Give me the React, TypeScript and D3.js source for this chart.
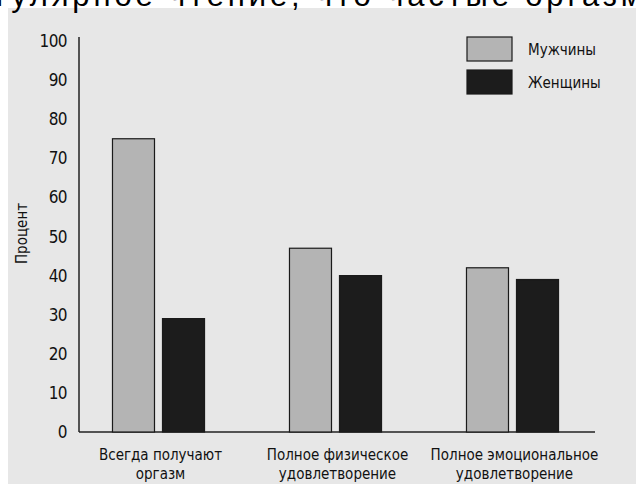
import React from "react";
import * as d3 from "d3";

const categories: string[][] = [
  ["Всегда получают", "оргазм"],
  ["Полное физическое", "удовлетворение"],
  ["Полное эмоциональное", "удовлетворение"],
];
const categoryKeys = ["orgasm", "physical", "emotional"];
const seriesNames = ["Мужчины", "Женщины"];
const menValues = [75, 47, 42];
const womenValues = [29, 40, 39];
const yTicks = [0, 10, 20, 30, 40, 50, 60, 70, 80, 90, 100];
const yLabel = "Процент";
const headerText = "гулярное чтение, что частые оргазм";

const W = 636;
const H = 484;
const FONT = "'Liberation Sans Narrow', 'DejaVu Sans Condensed', 'Arial Narrow', Arial, sans-serif";

export default function App() {
  const axisX = 79;
  const y = d3.scaleLinear().domain([0, 100]).range([432, 41]);
  const x0 = d3
    .scaleBand<string>()
    .domain(categoryKeys)
    .range([70, 601])
    .paddingInner(0.48)
    .paddingOuter(0.24);
  const x1 = d3
    .scaleBand<string>()
    .domain(seriesNames)
    .range([0, x0.bandwidth()])
    .paddingInner(0.16);
  const fills = ["#b4b4b4", "#1c1c1c"];
  const series = [menValues, womenValues];

  return (
    <svg
      width={W}
      height={H}
      style={{ position: "absolute", left: 0, top: 0, display: "block" }}
      fontFamily={FONT}
    >
      <rect x={0} y={0} width={W} height={H} fill="#ffffff" />
      <rect x={8} y={8} width={W - 8} height={H - 8} fill="#e7e7e7" />
      <text
        x={-4}
        y={6}
        fontFamily="'Liberation Sans', Arial, sans-serif"
        fontSize={31}
        textLength={646}
        lengthAdjust="spacing"
        fill="#000"
      >
        {headerText}
      </text>

      {/* axes */}
      <line x1={axisX} x2={axisX} y1={y(100) - 4} y2={y(0)} stroke="#222" strokeWidth={1.5} />
      <line x1={axisX} x2={595} y1={y(0)} y2={y(0)} stroke="#222" strokeWidth={1.5} />
      {yTicks.map((t) => (
        <text
          key={t}
          x={67}
          y={y(t) + 1}
          textAnchor="end"
          dominantBaseline="middle"
          fontSize={17}
          fill="#111"
          style={{ letterSpacing: "-0.6px" }}
        >
          {t}
        </text>
      ))}
      <text
        transform={`translate(22,${y(50) - 3}) rotate(-90)`}
        textAnchor="middle"
        dominantBaseline="middle"
        fontSize={15}
        fill="#111"
      >
        {yLabel}
      </text>

      {/* bars */}
      {categoryKeys.map((k, i) => (
        <g key={k} transform={`translate(${x0(k)},0)`}>
          {seriesNames.map((s, j) => {
            const v = series[j][i];
            return (
              <rect
                key={s}
                x={x1(s)}
                y={y(v)}
                width={x1.bandwidth()}
                height={y(0) - y(v)}
                fill={fills[j]}
                stroke="#1a1a1a"
                strokeWidth={1.2}
              />
            );
          })}
          {categories[i].map((line, li) => (
            <text
              key={li}
              x={x0.bandwidth() / 2 + 2}
              y={455 + li * 19}
              textAnchor="middle"
              dominantBaseline="middle"
              fontSize={15}
              fill="#111"
            >
              {line}
            </text>
          ))}
        </g>
      ))}

      {/* legend */}
      {seriesNames.map((s, j) => (
        <g key={s} transform={`translate(467,${37 + j * 33})`}>
          <rect x={0} y={0} width={45} height={24} fill={fills[j]} stroke="#1a1a1a" strokeWidth={1.2} />
          <text x={61} y={13} dominantBaseline="middle" fontSize={15} fill="#111">
            {s}
          </text>
        </g>
      ))}
    </svg>
  );
}
